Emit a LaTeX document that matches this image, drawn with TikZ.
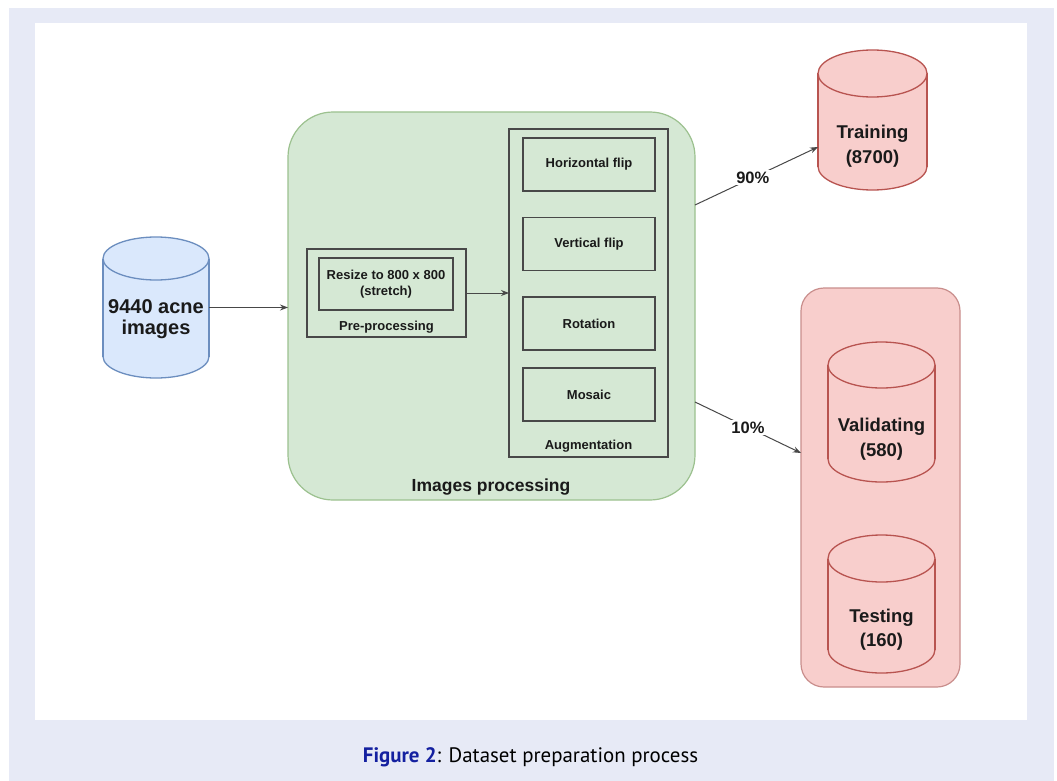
\documentclass[tikz,border=0pt]{standalone}
\usepackage{fontspec}
\setmainfont{Liberation Sans}
\newfontfamily\capfont{PT Sans}
\usetikzlibrary{calc,arrows.meta}
\definecolor{lav}{HTML}{E7EAF6}
\definecolor{gfill}{HTML}{D5E8D4}
\definecolor{gdraw}{HTML}{9CC18F}
\definecolor{rfill}{HTML}{F8CECC}
\definecolor{rdraw}{HTML}{B85450}
\definecolor{rbox}{HTML}{C98E8C}
\definecolor{bfill}{HTML}{DAE8FC}
\definecolor{bdraw}{HTML}{6C8EBF}
\definecolor{ink}{HTML}{1A1A1A}
\definecolor{figblue}{HTML}{1420A0}

\newcommand{\drawcyl}[5]{%
  \filldraw[fill=#4,draw=#5,line width=1.3pt] ($(#1.south)+(0,-#3)$) ellipse [x radius=#2pt, y radius=#3pt];
  \fill[#4] ($(#1.north west)+(0,#3)$) rectangle ($(#1.south east)+(0,-#3)$);
  \draw[#5,line width=1.3pt] ($(#1.north west)+(0,#3)$) -- ($(#1.south west)+(0,-#3)$);
  \draw[#5,line width=1.3pt] ($(#1.north east)+(0,#3)$) -- ($(#1.south east)+(0,-#3)$);
  \filldraw[fill=#4,draw=#5,line width=1.3pt] ($(#1.north)+(0,#3)$) ellipse [x radius=#2pt, y radius=#3pt];
}

\tikzset{
  bound/.style={inner sep=0, outer sep=0, draw=none},
  lbl/.style={inner sep=0, align=center, text=ink, font=\fontsize{18.5}{24.5}\selectfont\bfseries},
  smalltxt/.style={inner sep=0, align=center, text=ink, font=\fontsize{13}{15.5}\selectfont\bfseries},
  boxline/.style={draw=ink!80, line width=1.2pt, inner sep=0, outer sep=0},
  conn/.style={draw=ink!80, line width=1pt, -{Stealth[length=8pt,width=6pt]}},
  pct/.style={fill=white, inner sep=1.5pt, text=ink, font=\fontsize{16.5}{18}\selectfont\bfseries},
}

\begin{document}
\begin{tikzpicture}[x=1pt,y=-1pt]
\useasboundingbox (0,0) rectangle (1057,781);
\fill[white] (0,0) rectangle (1057,781);
\fill[lav] (9,8) rectangle (1054,781);
\fill[white] (35,23) rectangle (1027,720);

% images processing container
\node[bound, fill=gfill, draw=gdraw, line width=1.2pt, rounded corners=45pt, minimum width=407pt, minimum height=388pt] (proc) at (491.5,306) {};
\node[lbl, font=\fontsize{17.5}{20}\selectfont\bfseries] (proclbl) at (491,487) {Images processing};

% pre-processing
\node[boxline, minimum width=159pt, minimum height=88pt] (pre) at (386.5,293) {};
\node[boxline, smalltxt, minimum width=134pt, minimum height=52pt] (resize) at (386,284) {Resize to 800 x 800\\(stretch)};
\node[smalltxt] (prelbl) at (386.5,327) {Pre-processing};

% augmentation
\node[boxline, minimum width=159pt, minimum height=328pt] (aug) at (588.5,293) {};
\node[boxline, smalltxt, minimum width=132pt, minimum height=53pt] (hflip) at (589,164.5) {Horizontal flip};
\node[boxline, smalltxt, minimum width=132pt, minimum height=53pt] (vflip) at (589,244) {Vertical flip};
\node[boxline, smalltxt, minimum width=132pt, minimum height=53pt] (rot) at (589,323.5) {Rotation};
\node[boxline, smalltxt, minimum width=132pt, minimum height=53pt] (mos) at (589,394.5) {Mosaic};
\node[smalltxt] (auglbl) at (588.5,446) {Augmentation};

% source cylinder
\node[bound, minimum width=106pt, minimum height=141pt] (src) at (156,307.5) {};
\drawcyl{src}{53}{21.5}{bfill}{bdraw}
\node[lbl, font=\fontsize{20}{21.5}\selectfont\bfseries] (srctxt) at (156,319) {9440 acne\\images};

% training cylinder
\node[bound, minimum width=109pt, minimum height=140pt] (train) at (872.5,120) {};
\drawcyl{train}{54.5}{23.5}{rfill}{rdraw}
\node[lbl] (traintxt) at (872.5,146) {Training\\(8700)};

% validation/testing container
\node[bound, fill=rfill, draw=rbox, line width=1.2pt, rounded corners=23pt, minimum width=159pt, minimum height=399pt] (split) at (880.5,487.5) {};

\node[bound, minimum width=107pt, minimum height=140pt] (valid) at (881.5,412) {};
\drawcyl{valid}{53.5}{23}{rfill}{rdraw}
\node[lbl] (validtxt) at (881.5,439) {Validating\\(580)};

\node[bound, minimum width=107pt, minimum height=138pt] (test) at (881.5,604) {};
\drawcyl{test}{53.5}{23.5}{rfill}{rdraw}
\node[lbl] (testtxt) at (881.5,629.5) {Testing\\(160)};

% connectors
\draw[conn] (src.east) -- (src.east -| proc.west);
\draw[conn] (pre.east) -- (aug.west);
\draw[conn] ([yshift=101pt]proc.east) -- node[pct, pos=0.47] {90\%} ([yshift=-27pt]train.west);
\draw[conn] ([yshift=-96pt]proc.east) -- node[pct, pos=0.5] {10\%} ([yshift=34.5pt]split.west);

% caption
\node[inner sep=0, font=\capfont\fontsize{20.9}{24}\selectfont] (cap) at (530.5,757) {\textcolor{figblue}{\bfseries Figure 2}: Dataset preparation process};
\end{tikzpicture}
\end{document}
